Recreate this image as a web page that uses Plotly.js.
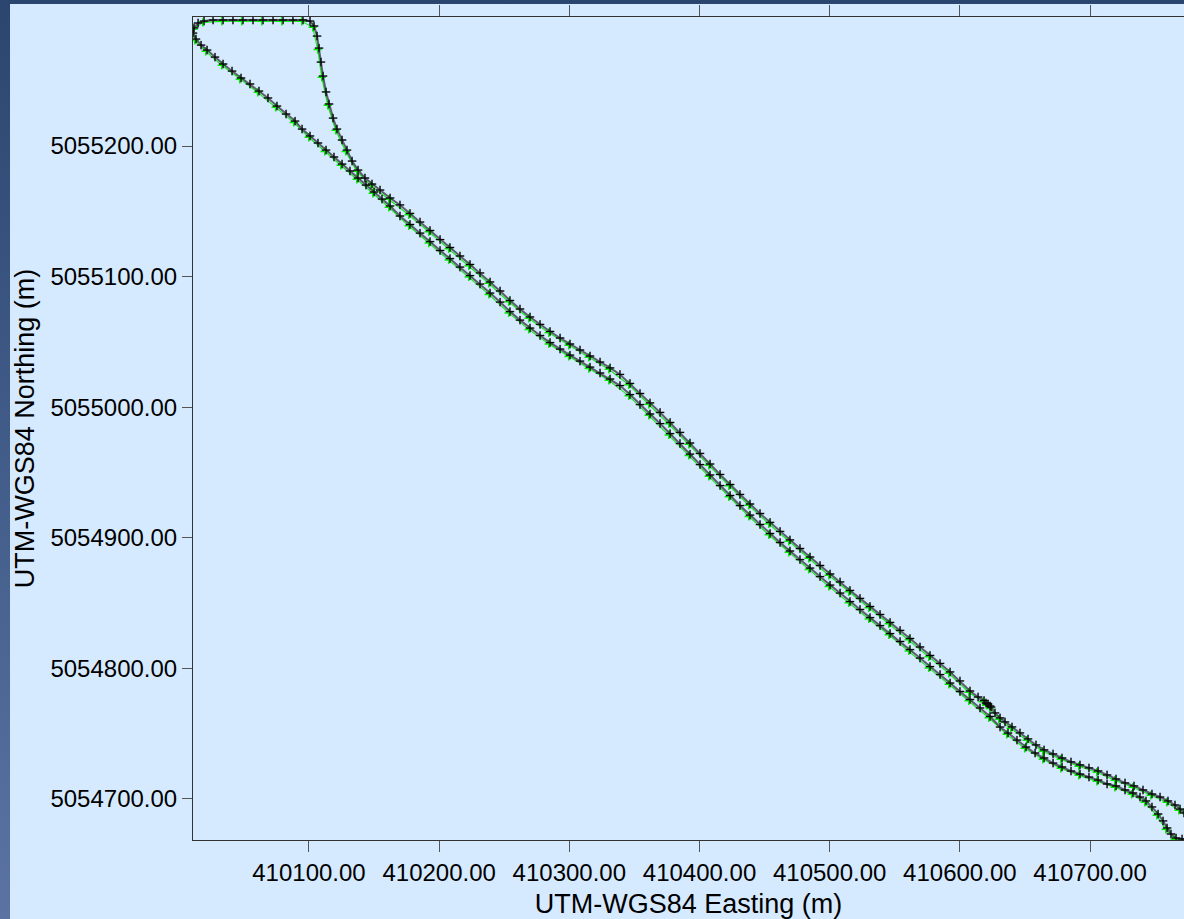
<!DOCTYPE html>
<html>
<head>
<meta charset="utf-8">
<script src="https://cdn.plot.ly/plotly-3.0.1.min.js"></script>
<style>
html,body{margin:0;padding:0;width:1184px;height:919px;overflow:hidden;
background:linear-gradient(180deg,#2b466e 0%,#3d5884 40%,#5a73a3 100%);}
#chart{position:absolute;left:10px;top:4px;width:1174px;height:915px;}
</style>
</head>
<body>
<div id="chart"></div>
<script>
// GPS track (UTM-WGS84) - black / gray solution
const trackEasting = [
410776.8,410772.2,410769.2,410765.3,410759.9,410753.8,410747.6,410740.7,410733.8,410726.9,
410720.0,410713.1,410706.2,410699.2,410692.3,410685.4,410678.5,410671.6,410664.7,410658.5,
410652.4,410646.2,410640.1,410634.7,410630.9,410627.0,410624.0,410623.2,410621.7,410620.1,
410618.6,410614.0,410607.8,410600.1,410592.5,410584.8,410577.1,410569.4,410561.7,410554.1,
410546.4,410538.7,410531.0,410523.3,410515.6,410508.0,410500.3,410492.6,410484.9,410477.2,
410469.5,410461.9,410454.2,410446.5,410438.8,410431.1,410423.5,410415.8,410408.1,410400.4,
410392.7,410385.0,410377.4,410369.7,410362.0,410354.3,410346.6,410338.9,410331.3,410323.6,
410315.9,410308.2,410300.5,410292.9,410285.2,410277.5,410269.8,410262.1,410254.4,410246.8,
410239.1,410231.4,410223.7,410216.0,410208.3,410200.7,410193.0,410185.3,410177.6,410169.9,
410162.3,410154.6,410148.4,410143.0,410137.7,410133.1,410129.2,410125.4,410121.5,410118.5,
410115.4,410113.1,410110.8,410109.2,410107.7,410106.2,410103.9,410100.8,
410095.4,410087.7,410080.1,410072.4,410064.7,410057.0,410049.3,410041.6,410034.0,410026.3,
410019.4,410014.8,410011.7,410010.9,410013.2,410017.1,
410021.7,410027.8,410034.0,410040.9,410047.8,410054.7,410061.6,410068.5,410075.4,410082.4,
410089.3,410094.7,410100.8,410106.9,410113.1,410119.2,410125.4,410131.5,410137.7,410143.8,
410150.0,410156.1,410162.3,410169.9,410177.6,410185.3,410193.0,410200.7,410208.3,410216.0,
410223.7,410231.4,410239.1,410246.8,410254.4,410262.1,410269.8,410277.5,410285.2,410292.9,
410300.5,410308.2,410315.9,410323.6,410331.3,410338.9,410346.6,410354.3,410362.0,410369.7,
410377.4,410385.0,410392.7,410400.4,410408.1,410415.8,410423.5,410431.1,410438.8,410446.5,
410454.2,410461.9,410469.5,410477.2,410484.9,410492.6,410500.3,410508.0,410515.6,410523.3,
410531.0,410538.7,410546.4,410554.1,410561.7,410569.4,410577.1,410584.8,410592.5,410600.1,
410607.8,410615.5,410623.2,410630.9,410637.0,410643.9,410650.8,410657.8,410664.7,410671.6,
410678.5,410685.4,410692.3,410699.2,410706.2,410713.1,410720.0,410726.9,410733.0,410738.4,
410743.0,410747.6,410752.3,410756.1,410759.2,410762.2,410766.1,410770.7,410776.8
];
const trackNorthing = [
5054686.2,5054689.3,5054692.3,5054695.4,5054698.5,5054701.5,5054703.8,5054706.9,5054710.0,5054712.3,
5054715.3,5054718.4,5054721.5,5054723.8,5054726.1,5054728.4,5054731.4,5054734.5,5054737.6,5054741.4,
5054746.0,5054750.6,5054755.2,5054759.0,5054762.1,5054765.9,5054770.4,5054771.2,5054772.7,5054773.5,
5054775.4,5054778.1,5054782.7,5054790.4,5054797.3,5054803.8,5054809.9,5054816.4,5054822.9,5054829.1,
5054835.2,5054841.3,5054847.4,5054853.6,5054859.7,5054866.2,5054872.3,5054878.8,5054885.3,5054891.8,
5054898.4,5054904.9,5054911.8,5054918.6,5054925.9,5054933.2,5054940.8,5054948.5,5054956.5,5054964.6,
5054972.6,5054980.7,5054988.3,5054996.0,5055003.3,5055010.5,5055018.2,5055025.1,5055030.1,5055034.6,
5055039.2,5055043.8,5055048.4,5055053.0,5055058.0,5055063.4,5055069.1,5055075.2,5055081.7,5055089.0,
5055095.9,5055102.8,5055109.3,5055115.8,5055122.3,5055128.4,5055135.3,5055141.8,5055148.4,5055154.9,
5055160.2,5055166.3,5055170.9,5055175.5,5055181.6,5055188.5,5055196.9,5055204.6,5055213.0,5055221.4,
5055232.2,5055241.4,5055253.6,5055264.3,5055275.0,5055284.2,5055291.9,5055295.7,
5055296.5,5055296.5,5055296.5,5055296.5,5055296.5,5055296.5,5055296.5,5055296.5,5055296.5,5055296.5,
5055295.7,5055294.2,5055290.4,5055286.5,5055281.9,5055277.3,
5055273.5,5055268.1,5055262.8,5055257.4,5055252.1,5055247.5,5055242.1,5055236.8,5055230.6,5055224.5,
5055219.1,5055213.0,5055207.7,5055202.3,5055196.9,5055191.6,5055186.2,5055180.9,5055175.5,5055170.1,
5055164.8,5055159.4,5055154.1,5055146.4,5055139.9,5055133.3,5055126.8,5055120.0,5055113.8,5055107.3,
5055100.8,5055094.3,5055087.4,5055080.5,5055073.2,5055066.7,5055060.6,5055054.9,5055049.5,5055044.5,
5055039.9,5055035.3,5055030.7,5055026.2,5055021.6,5055016.6,5055009.7,5055002.0,5054994.8,5054987.5,
5054979.8,5054972.2,5054964.1,5054956.1,5054948.1,5054940.0,5054932.4,5054924.7,5054917.4,5054910.2,
5054903.3,5054896.4,5054889.9,5054883.3,5054876.8,5054870.3,5054863.8,5054857.7,5054851.2,5054845.1,
5054838.9,5054832.8,5054826.7,5054820.6,5054814.4,5054807.9,5054801.4,5054795.3,5054788.8,5054782.3,
5054776.2,5054769.7,5054763.2,5054755.1,5054750.5,5054745.1,5054739.8,5054735.2,5054731.4,5054727.5,
5054724.5,5054721.4,5054719.1,5054716.8,5054714.5,5054711.5,5054710.0,5054706.9,5054704.6,5054701.5,
5054698.5,5054693.9,5054688.5,5054683.2,5054677.8,5054673.2,5054670.1,5054669.4,5054669.4
];
// GPS track (UTM-WGS84) - green solution
const greenEasting = [
410775.8,410768.2,410758.9,410746.6,410732.8,410719.0,410705.2,410691.3,410677.5,410663.7,
410651.4,410639.1,410629.9,410623.0,410620.7,410617.6,410606.8,410591.5,410576.1,410560.7,
410545.4,410530.0,410514.6,410499.3,410483.9,410468.5,410453.2,410437.8,410422.5,410407.1,
410391.7,410376.4,410361.0,410345.6,410330.3,410314.9,410299.5,410284.2,410268.8,410253.4,
410238.1,410222.7,410207.3,410192.0,410176.6,410161.3,410147.4,410136.7,410128.2,410120.5,
410114.4,410109.8,410106.7,410102.9,410094.4,410079.1,410063.7,410048.3,410033.0,410018.4,
410011.2,410012.2,410020.7,410033.0,410046.8,410060.6,410074.4,410088.3,410099.8,410112.1,
410124.4,410136.7,410149.0,410161.3,410176.6,410192.0,410207.3,410222.7,410238.1,410253.4,
410268.8,410284.2,410299.5,410314.9,410330.3,410345.6,410361.0,410376.4,410391.7,410407.1,
410422.5,410437.8,410453.2,410468.5,410483.9,410499.3,410514.6,410530.0,410545.4,410560.7,
410576.1,410591.5,410606.8,410622.2,410636.0,410649.8,410663.7,410677.5,410691.3,410705.2,
410719.0,410732.0,410742.0,410751.3,410758.2,410765.1,410775.8
];
const greenNorthing = [
5054685.2,5054691.3,5054697.5,5054702.8,5054709.0,5054714.3,5054720.5,5054725.1,5054730.4,5054736.6,
5054745.0,5054754.2,5054761.1,5054769.4,5054771.7,5054774.4,5054781.7,5054796.3,5054808.9,5054821.9,
5054834.2,5054846.4,5054858.7,5054871.3,5054884.3,5054897.4,5054910.8,5054924.9,5054939.8,5054955.5,
5054971.6,5054987.3,5055002.3,5055017.2,5055029.1,5055038.2,5055047.4,5055057.0,5055068.1,5055080.7,
5055094.9,5055108.3,5055121.3,5055134.3,5055147.4,5055159.2,5055169.9,5055180.6,5055195.9,5055212.0,
5055231.2,5055252.6,5055274.0,5055290.9,5055295.5,5055295.5,5055295.5,5055295.5,5055295.5,5055294.7,
5055289.4,5055280.9,5055272.5,5055261.8,5055251.1,5055241.1,5055229.6,5055218.1,5055206.7,5055195.9,
5055185.2,5055174.5,5055163.8,5055153.1,5055138.9,5055125.8,5055112.8,5055099.8,5055086.4,5055072.2,
5055059.6,5055048.5,5055038.9,5055029.7,5055020.6,5055008.7,5054993.8,5054978.8,5054963.1,5054947.1,
5054931.4,5054916.4,5054902.3,5054888.9,5054875.8,5054862.8,5054850.2,5054837.9,5054825.7,5054813.4,
5054800.4,5054787.8,5054775.2,5054762.2,5054749.5,5054738.8,5054730.4,5054723.5,5054718.1,5054713.5,
5054709.0,5054703.6,5054697.5,5054687.5,5054676.8,5054669.1,5054668.4
];
const xTickVals = [410100, 410200, 410300, 410400, 410500, 410600, 410700];
const xTickText = ["410100.00","410200.00","410300.00","410400.00","410500.00","410600.00","410700.00"];
const yTickVals = [5054700, 5054800, 5054900, 5055000, 5055100, 5055200];
const yTickText = ["5054700.00","5054800.00","5054900.00","5055000.00","5055100.00","5055200.00"];
const xTitle = "UTM-WGS84 Easting (m)";
const yTitle = "UTM-WGS84 Northing (m)";

const FONT = "Liberation Sans, Arial, Helvetica, sans-serif";

const traces = [
  {
    x: greenEasting, y: greenNorthing, type: "scatter", mode: "lines+markers",
    line: {color: "rgba(0,230,0,0.85)", width: 1.2},
    marker: {symbol: "cross-thin", size: 6, color: "#00ff00", line: {color: "#00f000", width: 1.5}},
    hoverinfo: "skip"
  },
  {
    x: trackEasting, y: trackNorthing, type: "scatter", mode: "lines+markers",
    line: {color: "rgba(35,35,45,0.7)", width: 2},
    marker: {symbol: "cross-thin", size: 6, color: "rgba(55,55,65,0.55)", line: {color: "rgba(55,55,65,0.55)", width: 1.8}},
    hoverinfo: "skip"
  },
  {
    x: trackEasting, y: trackNorthing, type: "scatter", mode: "markers",
    marker: {symbol: "cross-thin", size: 6, color: "#000", line: {color: "#000", width: 1}},
    hoverinfo: "skip"
  }
];

const layout = {
  width: 1174, height: 915,
  margin: {l: 183, r: 0, t: 13, b: 79, pad: 0},
  paper_bgcolor: "#d6eaff",
  plot_bgcolor: "#d6eaff",
  showlegend: false,
  hovermode: false,
  font: {family: FONT, size: 24, color: "#000"},
  xaxis: {
    range: [410010.9, 410772.2],
    tickmode: "array", tickvals: xTickVals, ticktext: xTickText,
    ticks: "outside", ticklen: 11, tickwidth: 1, tickcolor: "#555",
    showline: true, linecolor: "#333", linewidth: 1, mirror: "ticks",
    showgrid: false, zeroline: false,
    tickfont: {family: FONT, size: 24, color: "#000"},
    title: {text: xTitle, font: {family: FONT, size: 27, color: "#000"}, standoff: 9},
    automargin: false
  },
  yaxis: {
    range: [5054668.6, 5055298.8],
    tickmode: "array", tickvals: yTickVals, ticktext: yTickText,
    ticks: "outside", ticklen: 10, tickwidth: 1, tickcolor: "#555",
    showline: true, linecolor: "#333", linewidth: 1, mirror: false,
    showgrid: false, zeroline: false,
    tickfont: {family: FONT, size: 24, color: "#000"},
    title: {text: yTitle, font: {family: FONT, size: 27, color: "#000"}, standoff: 12},
    automargin: false
  }
};

Plotly.newPlot("chart", traces, layout, {staticPlot: true, displayModeBar: false});
</script>
</body>
</html>
